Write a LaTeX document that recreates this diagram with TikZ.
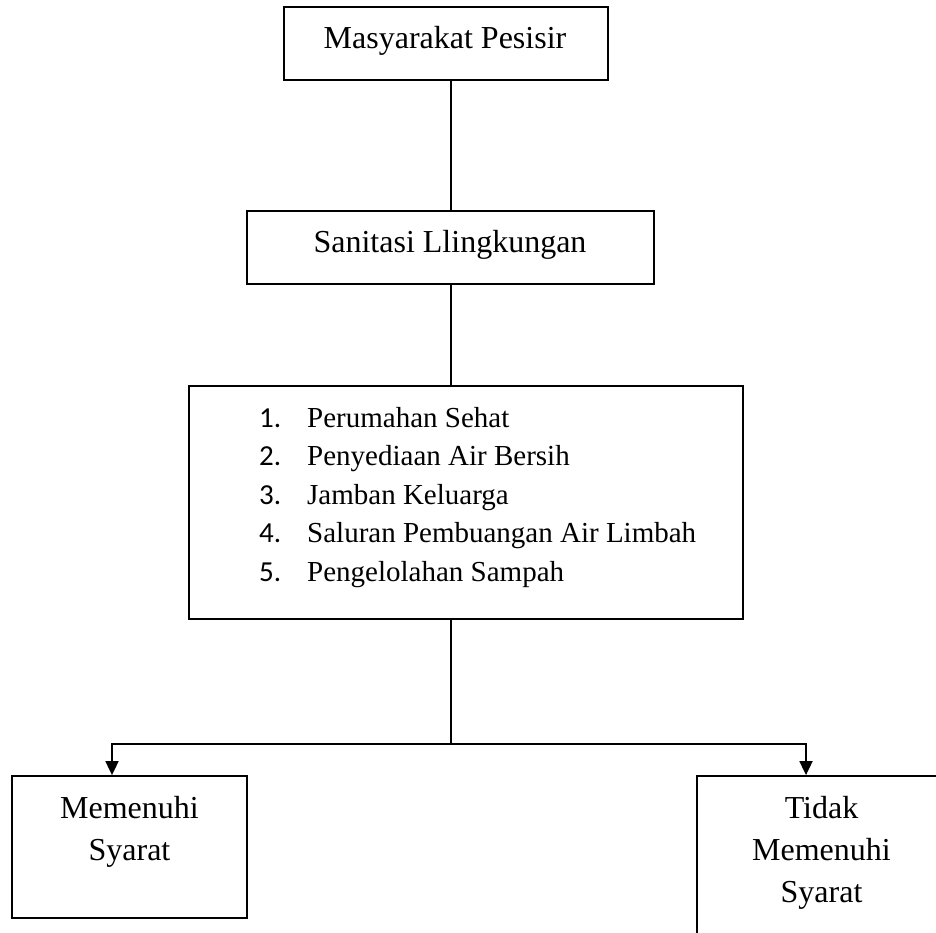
\documentclass[tikz,border=0pt]{standalone}
\usepackage{fontspec}
\setmainfont{Liberation Serif}
\newfontfamily\numfont{Carlito}
\usetikzlibrary{arrows.meta}
\begin{document}
\begin{tikzpicture}[x=1pt,y=-1pt,
  box/.style={draw, line width=1.8pt, rectangle, inner sep=0pt},
  lbl/.style={anchor=base, inner sep=0pt, font=\fontsize{32}{40}\selectfont},
  numlbl/.style={anchor=base west, inner sep=0pt, font=\numfont\fontsize{29}{36}\selectfont},
  itemlbl/.style={anchor=base west, inner sep=0pt, font=\fontsize{29}{36}\selectfont},
  conn/.style={line width=1.8pt},
  arr/.style={conn, -{Triangle[length=14pt,width=13pt]}}]
\useasboundingbox (0,0) rectangle (936,932);
\clip (0,0) rectangle (936,932);
% boxes
\node[box, minimum width=324pt, minimum height=73pt] (top) at (446,43.5) {};
\node[box, minimum width=407pt, minimum height=73pt] (sec) at (450.5,247.5) {};
\node[box, minimum width=554pt, minimum height=233pt] (list) at (466,502.5) {};
\node[box, minimum width=235pt, minimum height=142pt] (left) at (129.5,847) {};
\node[box, minimum width=249pt, minimum height=190pt] (right) at (821.5,871) {};
% texts
\node[lbl] (ttop) at (445,48) {Masyarakat Pesisir};
\node[lbl] (tsec) at (450,252) {Sanitasi Llingkungan};
\node[lbl] (tl1) at (129.5,818) {Memenuhi};
\node[lbl] (tl2) at (129.5,860) {Syarat};
\node[lbl] (tr1) at (821.5,818) {Tidak};
\node[lbl] (tr2) at (821.5,860) {Memenuhi};
\node[lbl] (tr3) at (821.5,902) {Syarat};
\foreach \n/\t [count=\i from 0] in {1/Perumahan Sehat, 2/Penyediaan Air Bersih, 3/Jamban Keluarga, 4/Saluran Pembuangan Air Limbah, 5/Pengelolahan Sampah}{
  \node[numlbl] (n\n) at (259,427+38.5*\i) {\n.};
  \node[itemlbl] (i\n) at (307,427+38.5*\i) {\t};
}
% connectors
\coordinate (spine) at (451,0);
\coordinate (j) at (451,744);
\coordinate (la) at (112,0);
\coordinate (ra) at (806,0);
\draw[conn] (top.south -| spine) -- (sec.north -| spine);
\draw[conn] (sec.south -| spine) -- (list.north -| spine);
\draw[conn] (list.south -| spine) -- (j);
\draw[arr] (j) -| (left.north -| la);
\draw[arr] (j) -| (right.north -| ra);
\end{tikzpicture}
\end{document}
